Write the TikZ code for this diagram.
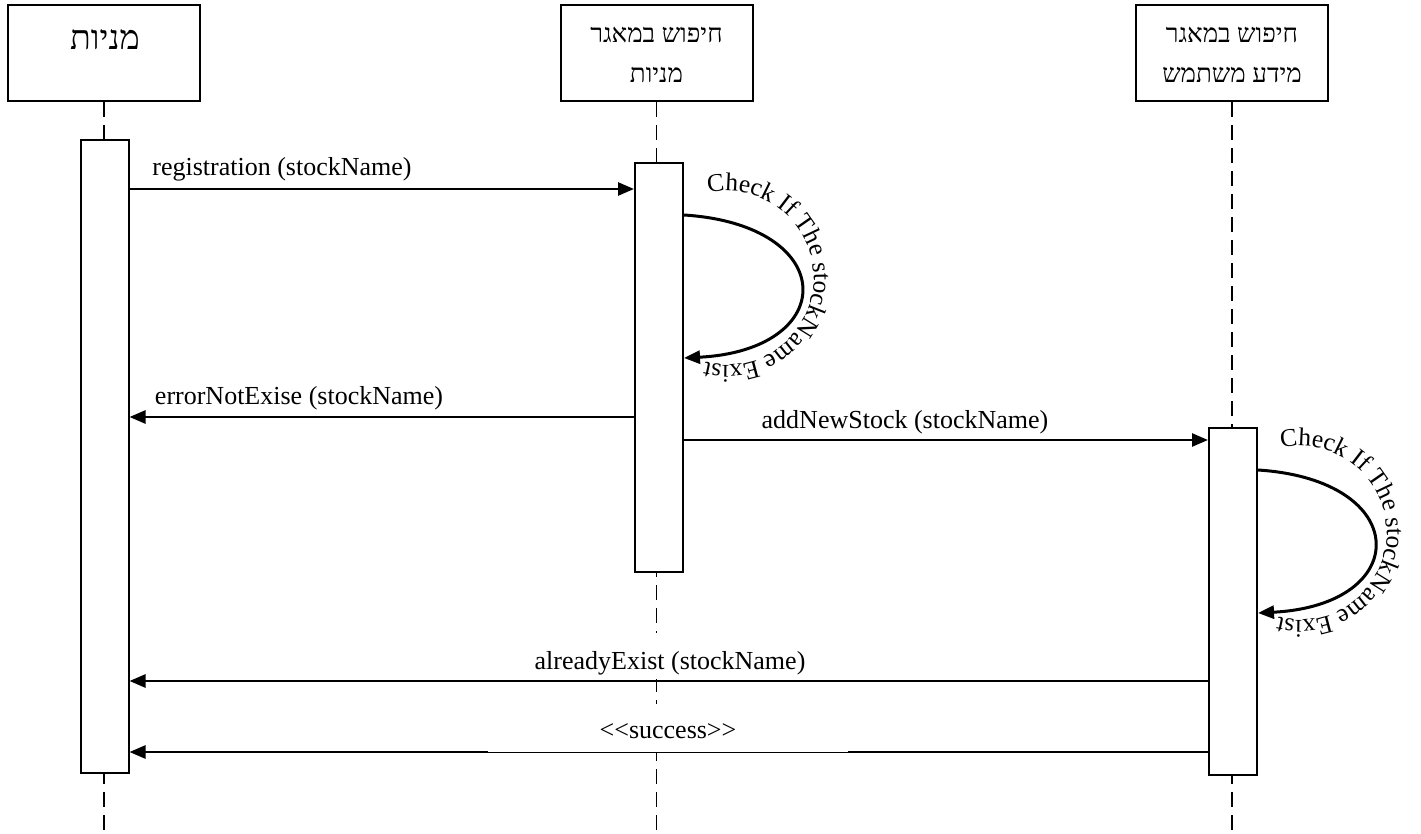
\documentclass[tikz,border=0pt]{standalone}
\usepackage{fontspec}
\setmainfont{Liberation Serif}
\newfontfamily\hebfont[Script=Hebrew]{Liberation Serif}
\TeXXeTstate=1
\usetikzlibrary{arrows.meta,decorations.text}

\begin{document}
\begin{tikzpicture}[x=1pt,y=1pt,
  head/.style={draw,line width=2pt,minimum width=192pt,minimum height=96pt,inner sep=0pt},
  headtext/.style={font=\hebfont\fontsize{26}{40}\selectfont,align=center,inner sep=0pt},
  act/.style={draw,fill=white,line width=2pt,minimum width=48pt,inner sep=0pt},
  life/.style={line width=1.8pt,dash pattern=on 15pt off 8pt},
  tip/.style={-{Triangle[length=16pt,width=13pt]}},
  msg/.style={tip,line width=2.6pt},
  selfmsg/.style={tip,line width=3pt},
  lbl/.style={font=\fontsize{26}{30}\selectfont,anchor=base,inner sep=0pt},
  mask/.style={fill=white,inner sep=0pt,anchor=south},
  arctext/.style={decorate,decoration={text along path,text align=center,
      text={|\fontsize{25.5}{26}\selectfont|Check If The stockName Exist}}},
]
\useasboundingbox (0,0) rectangle (1421,-834);

% lifeline heads
\node[head] (h1) at (104,-53) {};
\node[head] (h2) at (656.5,-53) {};
\node[head] (h3) at (1232,-53) {};
\node[headtext,font=\hebfont\fontsize{34}{40}\selectfont] (t1) at (105,-40) {\beginR מניות\endR};
\node[headtext] (t2) at (656.5,-55) {\beginR חיפוש במאגר\endR\\\beginR מניות\endR};
\node[headtext] (t3) at (1232,-55) {\beginR חיפוש במאגר\endR\\\beginR מידע משתמש\endR};

% dashed lifelines
\coordinate (e1) at (104,-834);
\coordinate (e2) at (656.5,-834);
\coordinate (e3) at (1232,-834);
\draw[life] (h1.south) -- (e1);
\draw[life] (h2.south) -- (e2);
\draw[life] (h3.south) -- (e3);

% activation bars
\node[act,minimum height=633pt] (a1) at (104.5,-456.5) {};
\node[act,minimum height=409pt] (a2) at (659,-367.5) {};
\node[act,minimum height=347pt] (a3) at (1233,-601.5) {};

% messages
\draw[msg] (a1.east |- 0,-189) -- (a2.west |- 0,-189);
\node[lbl] (m1) at (282,-176) {registration (stockName)};

\draw[msg] (a2.west |- 0,-417) -- (a1.east |- 0,-417);
\node[lbl] (m2) at (299,-404) {errorNotExise (stockName)};

\draw[msg] (a2.east |- 0,-440) -- (a3.west |- 0,-440);
\node[lbl] (m3) at (905,-428) {addNewStock (stockName)};

\node[mask,minimum width=300pt,minimum height=46pt] (k4) at (670,-679) {};
\draw[msg] (a3.west |- 0,-681) -- (a1.east |- 0,-681);
\node[lbl] (m4) at (670,-669) {alreadyExist (stockName)};

% the label box of this message overlaps the upper half of its line
\draw[msg] (a3.west |- 0,-752) -- (a1.east |- 0,-752);
\node[mask,minimum width=360pt,minimum height=48pt] (k5) at (668,-752.4) {};
\node[lbl] (m5) at (668,-738) {<{}<success>{}>};

% self calls with curved captions
\coordinate (s1) at (a2.east |- 0,-215);
\coordinate (r1) at (a2.east |- 0,-358);
\draw[selfmsg] (s1) .. controls (840,-225) and (840,-350) .. (r1);
\path[arctext] (727,-278) ++(103:87) arc[start angle=103,end angle=-105,radius=87];

\coordinate (s2) at (a3.east |- 0,-470);
\coordinate (r2) at (a3.east |- 0,-613);
\draw[selfmsg] (s2) .. controls (1413,-480) and (1413,-605) .. (r2);
\path[arctext] (1300,-533) ++(103:87) arc[start angle=103,end angle=-105,radius=87];
\end{tikzpicture}
\end{document}
